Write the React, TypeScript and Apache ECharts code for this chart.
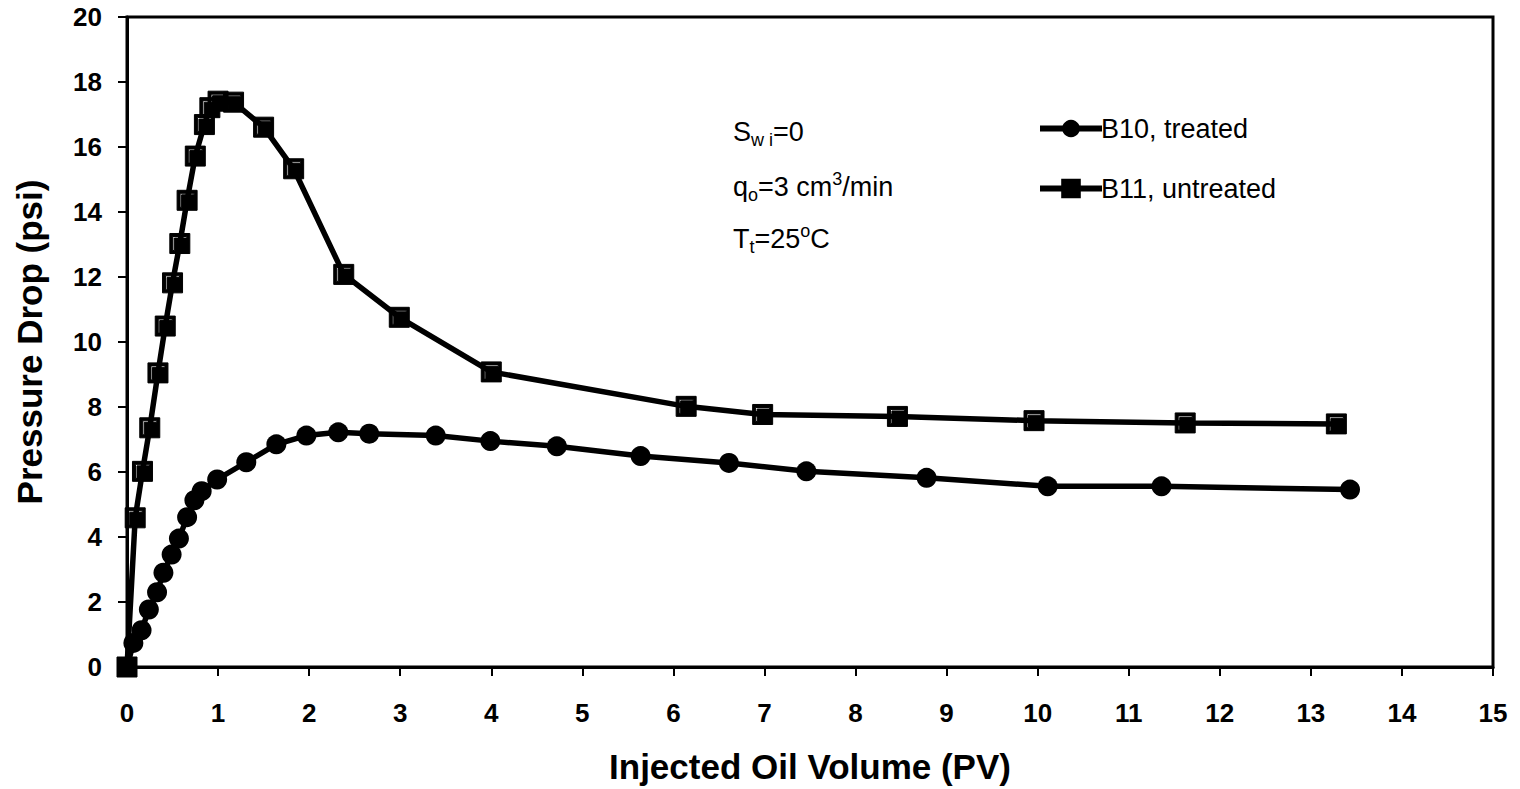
import React, { useEffect, useRef } from "react";
import * as echarts from "echarts";

const xTicks = [0, 15, 1];
const yTicks = [0, 20, 2];

const b10X = [0, 0.07, 0.16, 0.24, 0.33, 0.4, 0.49, 0.57, 0.66, 0.74, 0.82, 0.99, 1.31, 1.64, 1.97, 2.32, 2.66, 3.39, 3.99, 4.72, 5.64, 6.61, 7.46, 8.78, 10.11, 11.36, 13.43];
const b10Y = [0, 0.74, 1.13, 1.77, 2.3, 2.9, 3.46, 3.95, 4.61, 5.13, 5.41, 5.77, 6.3, 6.85, 7.12, 7.22, 7.18, 7.12, 6.95, 6.79, 6.49, 6.28, 6.02, 5.82, 5.56, 5.56, 5.46];

const b11X = [0, 0.09, 0.17, 0.25, 0.34, 0.42, 0.5, 0.58, 0.66, 0.75, 0.85, 0.91, 1.0, 1.17, 1.5, 1.83, 2.38, 2.99, 4.0, 6.14, 6.98, 8.46, 9.96, 11.62, 13.28];
const b11Y = [0, 4.59, 6.02, 7.36, 9.05, 10.49, 11.82, 13.03, 14.36, 15.72, 16.69, 17.21, 17.41, 17.38, 16.61, 15.33, 12.08, 10.76, 9.08, 8.02, 7.77, 7.71, 7.58, 7.51, 7.48];

const seriesNames = ["B10, treated", "B11, untreated"];
const xTitle = "Injected Oil Volume (PV)";
const yTitle = "Pressure Drop (psi)";

const FONT = "'Liberation Sans', Arial, Helvetica, sans-serif";
const SQUARE = "path://M0 0H20V20H0Z M3 3V17H4.5V4.5H17V3Z";

export default function App() {
  const ref = useRef<HTMLDivElement>(null);
  useEffect(() => {
    if (!ref.current) return;
    const chart = echarts.init(ref.current, undefined, { renderer: "svg" });
    const pair = (xs: number[], ys: number[]) => xs.map((x, i) => [x, ys[i]]);
    const sub = { fontSize: 18, fontFamily: FONT, color: "#000", lineHeight: 16, verticalAlign: "bottom" as const };
    const sup = { fontSize: 18, fontFamily: FONT, color: "#000", lineHeight: 16, verticalAlign: "top" as const };
    const main = { fontSize: 27, fontFamily: FONT, color: "#000", lineHeight: 34, verticalAlign: "middle" as const };
    chart.setOption({
      animation: false,
      backgroundColor: "#fff",
      grid: {
        left: 127,
        right: 27,
        top: 17,
        bottom: 121,
        show: true,
        borderColor: "#000",
        borderWidth: 3,
        backgroundColor: "transparent",
      },
      legend: {
        orient: "vertical",
        left: 1032,
        top: 110,
        itemWidth: 62,
        itemHeight: 22,
        itemGap: 33,
        lineStyle: { width: 6 },
        textStyle: { fontSize: 27, fontFamily: FONT, color: "#000", padding: [0, 0, 0, -6] },
        data: seriesNames,
      },
      xAxis: {
        type: "value",
        min: xTicks[0],
        max: xTicks[1],
        interval: xTicks[2],
        name: xTitle,
        nameLocation: "middle",
        nameGap: 82,
        nameTextStyle: { fontSize: 35, fontWeight: "bold", fontFamily: FONT, color: "#000" },
        axisLine: { lineStyle: { color: "#000", width: 3 } },
        axisTick: { show: true, inside: false, length: 9, lineStyle: { color: "#000", width: 2 } },
        axisLabel: { fontSize: 26, fontWeight: "bold", fontFamily: FONT, color: "#000", margin: 33 },
        splitLine: { show: false },
      },
      yAxis: {
        type: "value",
        min: yTicks[0],
        max: yTicks[1],
        interval: yTicks[2],
        name: yTitle,
        nameLocation: "middle",
        nameGap: 80,
        nameTextStyle: { fontSize: 35, fontWeight: "bold", fontFamily: FONT, color: "#000" },
        axisLine: { lineStyle: { color: "#000", width: 3 } },
        axisTick: { show: true, inside: false, length: 9, lineStyle: { color: "#000", width: 2 } },
        axisLabel: { fontSize: 26, fontWeight: "bold", fontFamily: FONT, color: "#000", margin: 25 },
        splitLine: { show: false },
      },
      graphic: [
        {
          type: "text",
          left: 733,
          top: 118,
          style: {
            text: "{m|S}{s|w i}{m|=0}",
            rich: { m: main, s: sub },
          },
        },
        {
          type: "text",
          left: 733,
          top: 170,
          style: {
            text: "{m|q}{s|o}{m|=3 cm}{p|3}{m|/min}",
            rich: { m: main, s: sub, p: sup },
          },
        },
        {
          type: "text",
          left: 733,
          top: 222,
          style: {
            text: "{m|T}{s|t}{m|=25}{p|o}{m|C}",
            rich: { m: main, s: sub, p: sup },
          },
        },
      ],
      series: [
        {
          name: seriesNames[0],
          type: "line",
          data: pair(b10X, b10Y),
          symbol: "circle",
          symbolSize: 20,
          showAllSymbol: true,
          lineStyle: { color: "#000", width: 5.5 },
          itemStyle: { color: "#000", borderColor: "#000", borderWidth: 0 },
        },
        {
          name: seriesNames[1],
          type: "line",
          data: pair(b11X, b11Y),
          symbol: SQUARE,
          symbolSize: 20,
          showAllSymbol: true,
          lineStyle: { color: "#000", width: 5.5 },
          itemStyle: { color: "#000", borderColor: "#000", borderWidth: 1 },
        },
      ],
    });
    return () => chart.dispose();
  }, []);
  return (
    <div
      ref={ref}
      style={{ position: "absolute", left: 0, top: 0, width: 1520, height: 789, background: "#fff" }}
    />
  );
}
